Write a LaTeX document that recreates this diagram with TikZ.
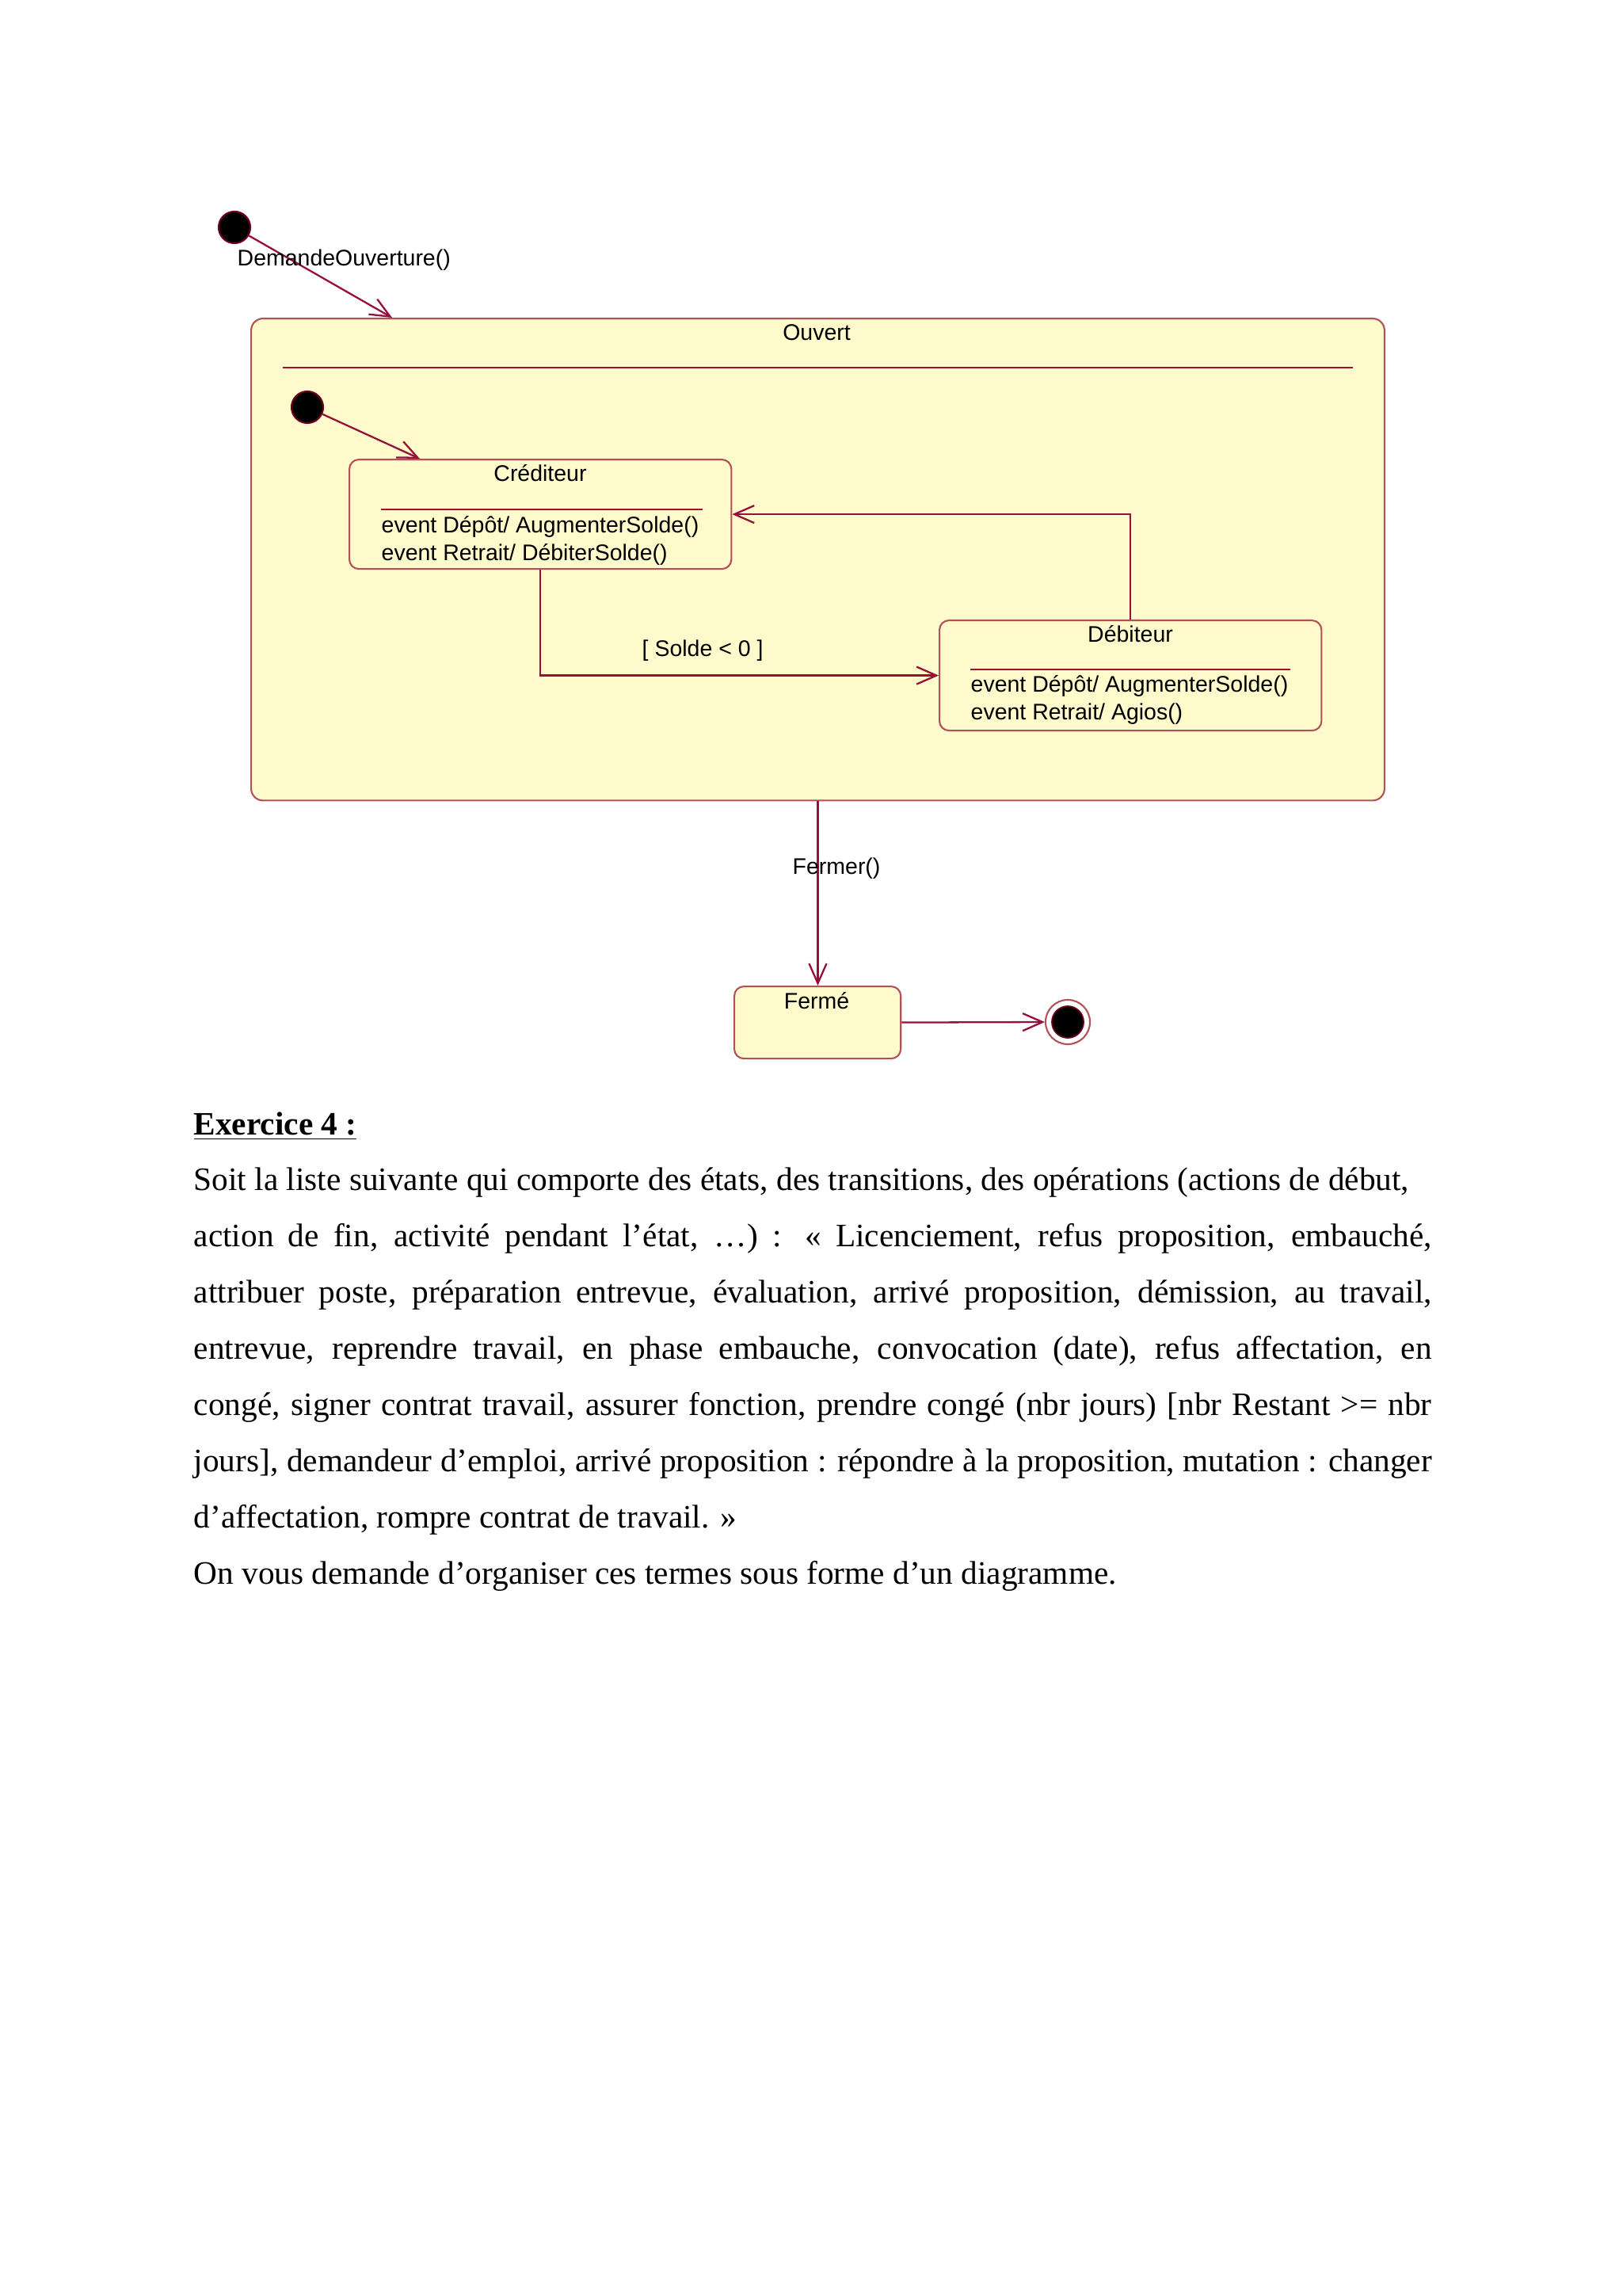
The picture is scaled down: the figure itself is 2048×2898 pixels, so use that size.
\documentclass[tikz,border=0pt]{standalone}
\usepackage{fontspec}
\setmainfont{Liberation Serif}
\newfontfamily\dsans{Liberation Sans}
\usetikzlibrary{arrows.meta}
\definecolor{fillY}{RGB}{255,250,204}
\definecolor{boxB}{RGB}{176,82,88}
\definecolor{transC}{RGB}{150,16,56}
\definecolor{sepC}{RGB}{160,16,40}
\definecolor{dotB}{RGB}{110,0,30}
\begin{document}
\begin{tikzpicture}[x=0.01cm,y=-0.01cm,
  stbox/.style={draw=boxB, fill=fillY, rounded corners=0.12cm, line width=0.6pt, inner sep=0pt},
  dlabel/.style={font=\dsans\fontsize{8.1}{9.5}\selectfont, inner sep=0pt},
  ptext/.style={font=\fontsize{11.75}{14}\selectfont, inner sep=0pt, anchor=base west},
  trans/.style={draw=transC, line width=0.65pt, -{Straight Barb[length=0.25cm,width=0.22cm]}},
  sepline/.style={draw=sepC, line width=0.65pt},
  blackdot/.style={circle, fill=black, draw=dotB, line width=0.6pt, minimum size=0.4cm, inner sep=0pt}]
\path[use as bounding box, fill=white] (0,0) rectangle (2048,2898);

% initial state
\node[blackdot] (init) at (296,287) {};
% Ouvert composite state
\node[stbox, rounded corners=0.15cm, anchor=north west, minimum width=14.30cm, minimum height=6.08cm] (ouvert) at (316,401) {};
\coordinate (oin) at (495,401);
\draw[trans] (init) -- (oin);
\node[dlabel, anchor=base west] (lblDO) at (299,336) {DemandeOuverture()};
\node[dlabel, anchor=base] (tOuvert) at (1031,430) {Ouvert};
\coordinate (os1) at (357,464);
\coordinate (os2) at (1708,464);
\draw[sepline] (os1) -- (os2);

% inner initial
\node[blackdot] (init2) at (388,514) {};

% Crediteur
\node[stbox, anchor=north west, minimum width=4.82cm, minimum height=1.38cm] (cred) at (440,579) {};
\coordinate (cin) at (530,579);
\draw[trans] (init2) -- (cin);
\node[dlabel, anchor=base] (tCred) at (682,608) {Créditeur};
\coordinate (cs1) at (481,643);
\coordinate (cs2) at (887,643);
\draw[sepline] (cs1) -- (cs2);
\node[dlabel, anchor=base west] (cA) at (481,673) {event Dépôt/ AugmenterSolde()};
\node[dlabel, anchor=base west] (cB) at (481,708) {event Retrait/ DébiterSolde()};

% Debiteur
\node[stbox, anchor=north west, minimum width=4.82cm, minimum height=1.39cm] (deb) at (1185,782) {};
\node[dlabel, anchor=base] (tDeb) at (1427,811) {Débiteur};
\coordinate (ds1) at (1225,845);
\coordinate (ds2) at (1629,845);
\draw[sepline] (ds1) -- (ds2);
\node[dlabel, anchor=base west] (dA) at (1225,874) {event Dépôt/ AugmenterSolde()};
\node[dlabel, anchor=base west] (dB) at (1225,909) {event Retrait/ Agios()};

% transitions inside
\draw[trans] (cred.south) |- (deb.west);
\node[dlabel, anchor=base west] (lblS) at (810,829) {[ Solde < 0 ]};
\draw[trans] (deb.north) |- (cred.east);

% Ferme
\node[stbox, anchor=north west, minimum width=2.10cm, minimum height=0.91cm] (ferme) at (926,1244) {};
\node[dlabel, anchor=base] (tFerme) at (1031,1273) {Fermé};
\draw[trans] (ouvert.south) -- (ouvert.south |- ferme.north);
\node[dlabel, anchor=base west] (lblF) at (1000,1103) {Fermer()};

% final state
\node[circle, draw=boxB, fill=white, line width=0.6pt, minimum size=0.56cm, inner sep=0pt] (final) at (1348,1290) {};
\node[circle, fill=black, draw=dotB, line width=0.5pt, minimum size=0.4cm, inner sep=0pt] (finalIn) at (1348,1290) {};
\draw[trans] (ferme.east) -- (final.west);

% text
\node[ptext] (ex) at (244,1432) {\textbf{\underline{Exercice 4 :}}};
\node[ptext] (l1) at (244,1502) {Soit la liste suivante qui comporte des états, des transitions, des opérations (actions de début,};
\node[ptext] (l2) at (244,1573) {\makebox[15.62cm][s]{action de fin, activité pendant l’état, …) : « Licenciement, refus proposition, embauché,}};
\node[ptext] (l3) at (244,1644) {\makebox[15.62cm][s]{attribuer poste, préparation entrevue, évaluation, arrivé proposition, démission, au travail,}};
\node[ptext] (l4) at (244,1715) {\makebox[15.62cm][s]{entrevue, reprendre travail, en phase embauche, convocation (date), refus affectation, en}};
\node[ptext] (l5) at (244,1786) {\makebox[15.62cm][s]{congé, signer contrat travail, assurer fonction, prendre congé (nbr jours) [nbr Restant >= nbr}};
\node[ptext] (l6) at (244,1857) {\makebox[15.62cm][s]{jours], demandeur d’emploi, arrivé proposition : répondre à la proposition, mutation : changer}};
\node[ptext] (l7) at (244,1928) {d’affectation, rompre contrat de travail. »};
\node[ptext] (l8) at (244,1999) {On vous demande d’organiser ces termes sous forme d’un diagramme.};
\end{tikzpicture}
\end{document}
